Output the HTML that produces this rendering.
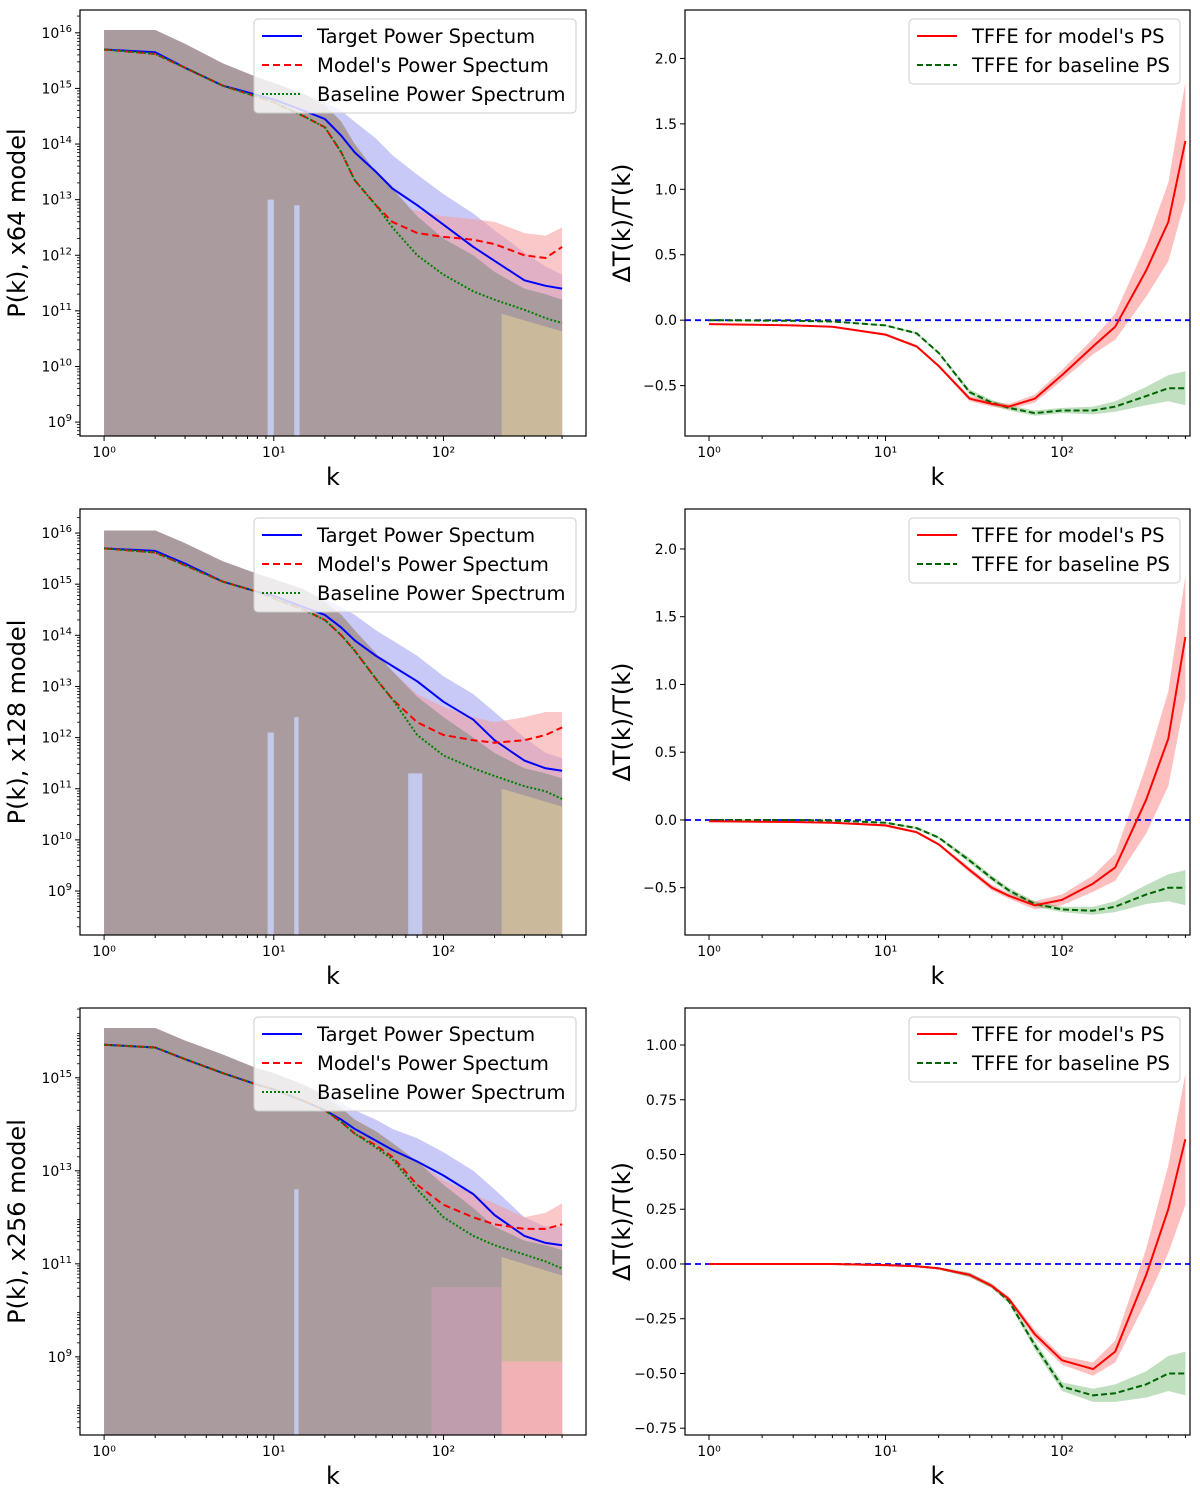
<!DOCTYPE html>
<html><head><meta charset="utf-8"><style>
body{margin:0;background:#fff;}
svg text{font-family:"DejaVu Sans","Liberation Sans",sans-serif;}
</style></head><body>
<svg id="fig" width="1200" height="1499" xmlns="http://www.w3.org/2000/svg"></svg>
<script>
// ---------- data ----------
const kL = [1,2,3,5,8,10,15,20,25,30,40,50,70,100,150,200,300,400,500];
const target1 = [15.7,15.65,15.37,15.05,14.88,14.8,14.6,14.45,14.15,13.85,13.5,13.2,12.9,12.55,12.15,11.9,11.55,11.45,11.4];
const model1  = [15.7,15.62,15.37,15.05,14.85,14.75,14.5,14.3,13.85,13.35,12.9,12.6,12.4,12.33,12.28,12.2,12.0,11.95,12.15];
const base1   = [15.7,15.62,15.37,15.05,14.85,14.75,14.5,14.3,13.85,13.35,12.9,12.5,12.0,11.65,11.35,11.2,11.02,10.87,10.78];
const gray1   = [16.05,16.05,15.8,15.45,15.2,15.1,14.9,14.7,14.4,14.0,13.5,13.2,12.7,12.3,12.0,11.7,11.4,11.3,11.2];
const blueUp1 = [16.05,16.05,15.8,15.45,15.2,15.1,14.9,14.75,14.6,14.4,14.1,13.8,13.45,13.1,12.75,12.45,12.05,11.8,11.65];
const redUp1  = [16.05,16.05,15.8,15.45,15.2,15.1,14.9,14.7,14.4,14.0,13.4,12.9,12.8,12.7,12.65,12.6,12.4,12.35,12.5];

const target2 = [15.7,15.65,15.4,15.05,14.85,14.77,14.55,14.4,14.15,13.9,13.6,13.4,13.1,12.7,12.35,11.95,11.55,11.4,11.35];
const model2  = [15.7,15.62,15.37,15.05,14.85,14.72,14.5,14.3,14.0,13.7,13.15,12.75,12.3,12.05,11.95,11.9,11.95,12.05,12.2];
const base2   = [15.7,15.62,15.37,15.05,14.85,14.72,14.5,14.3,14.0,13.7,13.15,12.75,12.05,11.65,11.4,11.25,11.05,10.95,10.8];
const gray2   = [16.05,16.05,15.8,15.45,15.2,15.1,14.9,14.65,14.4,14.1,13.65,13.3,12.8,12.4,12.0,11.7,11.4,11.3,11.2];
const blueUp2 = [16.05,16.05,15.8,15.45,15.2,15.1,14.9,14.7,14.55,14.4,14.1,13.9,13.6,13.2,12.85,12.5,12.0,11.7,11.6];
const redUp2  = [16.05,16.05,15.8,15.45,15.2,15.1,14.9,14.65,14.4,14.1,13.65,13.3,12.85,12.6,12.4,12.3,12.4,12.5,12.5];

const target3 = [15.71,15.65,15.4,15.1,14.85,14.75,14.5,14.3,14.1,13.9,13.65,13.45,13.2,12.9,12.5,12.05,11.6,11.45,11.4];
const model3  = [15.71,15.65,15.4,15.1,14.85,14.75,14.5,14.3,14.05,13.8,13.55,13.3,12.7,12.27,12.0,11.85,11.75,11.75,11.85];
const base3   = [15.71,15.65,15.4,15.1,14.85,14.75,14.5,14.3,14.05,13.8,13.5,13.25,12.6,12.0,11.6,11.4,11.2,11.05,10.9];
const gray3   = [16.07,16.07,15.8,15.5,15.2,15.1,14.85,14.6,14.35,14.1,13.85,13.6,13.2,12.7,12.2,11.8,11.5,11.4,11.3];
const blueUp3 = [16.07,16.07,15.8,15.5,15.2,15.1,14.85,14.65,14.45,14.3,14.1,13.9,13.7,13.4,13.0,12.6,12.0,11.8,11.8];
const redUp3  = [16.07,16.07,15.8,15.5,15.2,15.1,14.85,14.6,14.35,14.1,13.85,13.6,13.2,12.8,12.5,12.3,12.0,12.1,12.3];

const kR = [1,3,5,10,15,20,30,40,50,70,100,150,200,300,400,500];
const tfModel1 = [-0.03,-0.04,-0.05,-0.11,-0.2,-0.35,-0.6,-0.64,-0.66,-0.6,-0.42,-0.2,-0.05,0.38,0.75,1.37];
const tfBase1  = [0,-0.005,-0.01,-0.04,-0.1,-0.25,-0.55,-0.63,-0.67,-0.71,-0.69,-0.69,-0.66,-0.58,-0.52,-0.52];
const tfModelErr1 = [0.005,0.005,0.005,0.01,0.01,0.01,0.02,0.02,0.02,0.03,0.04,0.06,0.1,0.2,0.3,0.45];
const tfBaseErr1  = [0.005,0.005,0.005,0.005,0.01,0.01,0.02,0.02,0.02,0.02,0.02,0.03,0.04,0.07,0.1,0.13];
const tfModel2 = [-0.01,-0.015,-0.02,-0.04,-0.09,-0.18,-0.37,-0.5,-0.56,-0.63,-0.59,-0.47,-0.35,0.15,0.6,1.35];
const tfBase2  = [0,0,-0.005,-0.02,-0.06,-0.13,-0.3,-0.43,-0.52,-0.62,-0.66,-0.67,-0.64,-0.55,-0.5,-0.5];
const tfModelErr2 = [0.005,0.005,0.005,0.01,0.01,0.01,0.02,0.02,0.02,0.03,0.04,0.06,0.1,0.25,0.35,0.45];
const tfBaseErr2  = [0.005,0.005,0.005,0.005,0.01,0.01,0.02,0.02,0.02,0.02,0.02,0.03,0.04,0.07,0.1,0.13];
const tfModel3 = [0,0,0,-0.005,-0.01,-0.02,-0.05,-0.1,-0.16,-0.32,-0.44,-0.48,-0.4,-0.05,0.25,0.57];
const tfBase3  = [0,0,0,-0.005,-0.01,-0.02,-0.05,-0.1,-0.17,-0.37,-0.56,-0.6,-0.59,-0.55,-0.5,-0.5];
const tfModelErr3 = [0.002,0.002,0.002,0.003,0.005,0.005,0.01,0.01,0.01,0.02,0.02,0.03,0.05,0.12,0.2,0.3];
const tfBaseErr3  = [0.002,0.002,0.002,0.003,0.005,0.005,0.01,0.01,0.01,0.02,0.02,0.03,0.04,0.06,0.08,0.1];

const leftTicks1 = [9,10,11,12,13,14,15,16];
const leftTicks3 = [9,11,13,15];
const rightTicks12 = [-0.5,0.0,0.5,1.0,1.5,2.0];
const rightTicks3 = [-0.75,-0.5,-0.25,0.0,0.25,0.5,0.75,1.0];
const rightTickLabels3 = ["\u22120.75","\u22120.50","\u22120.25","0.00","0.25","0.50","0.75","1.00"];
const xTickExp = [0,1,2];

// ---------- helpers ----------
const NS="http://www.w3.org/2000/svg";
const svg=document.getElementById('fig');
function mk(tag,attrs,parent){const e=document.createElementNS(NS,tag);for(const a in attrs)e.setAttribute(a,attrs[a]);(parent||svg).appendChild(e);return e;}
const sup={0:"\u2070",1:"\u00b9",2:"\u00b2",9:"\u2079"};

function panel(o){
  const g=mk('g',{});
  
  
  const xs=k=>o.x0+(Math.log10(k)-o.lmin)/(o.lmax-o.lmin)*(o.x1-o.x0);
  const ys=v=>o.y1-(v-o.vmin)/(o.vmax-o.vmin)*(o.y1-o.y0);
  const clip='c'+o.name;
  const cp=mk('clipPath',{id:clip},g);mk('rect',{x:o.x0,y:o.y0,width:o.x1-o.x0,height:o.y1-o.y0},cp);
  const pg=mk('g',{'clip-path':'url(#'+clip+')'},g);
  return {g,pg,xs,ys};
}
function line(pg,ks,vals,xs,ys,stroke,dash,name,w){
  const p=mk('path',{d:ks.map((k,i)=>(i?'L':'M')+xs(k).toFixed(1)+','+ys(vals[i]).toFixed(1)).join(''),fill:'none',stroke:stroke,'stroke-width':w||2,'stroke-dasharray':dash||'none','stroke-linejoin':'round'},pg);
  
  
}
function band(pg,ks,up,lo,xs,ys,fill,op,name){
  let d=ks.map((k,i)=>(i?'L':'M')+xs(k).toFixed(1)+','+ys(up[i]).toFixed(1)).join('');
  for(let i=ks.length-1;i>=0;i--)d+='L'+xs(ks[i]).toFixed(1)+','+ys(lo[i]).toFixed(1);
  const p=mk('path',{d:d+'Z',fill:fill,'fill-opacity':op,stroke:'none'},pg);
  
  
}
function frame(P,o,yt,ylab,ytickLabels,logY){
  mk('rect',{x:o.x0,y:o.y0,width:o.x1-o.x0,height:o.y1-o.y0,fill:'none',stroke:'#000','stroke-width':1.2},P.g);
  xTickExp.forEach(e=>{const x=P.xs(Math.pow(10,e));
    mk('line',{x1:x,x2:x,y1:o.y1,y2:o.y1+5,stroke:'#000'},P.g);
    const t=mk('text',{x:x,y:o.y1+21,'font-size':14,'text-anchor':'middle'},P.g);t.textContent='10'+sup[e];
    
    if(e<2){for(let m=2;m<10;m++){const xm=P.xs(m*Math.pow(10,e));mk('line',{x1:xm,x2:xm,y1:o.y1,y2:o.y1+3,stroke:'#000'},P.g);}}
    else{for(let m=2;m<=5;m++){const xm=P.xs(m*100);mk('line',{x1:xm,x2:xm,y1:o.y1,y2:o.y1+3,stroke:'#000'},P.g);}}
  });
  const kl=mk('text',{x:(o.x0+o.x1)/2,y:o.y1+49,'font-size':24,'text-anchor':'middle'},P.g);kl.textContent='k';
  
  yt.forEach((v,i)=>{const y=P.ys(v);
    mk('line',{x1:o.x0-5,x2:o.x0,y1:y,y2:y,stroke:'#000'},P.g);
    let t;
    if(logY){t=mk('text',{x:o.x0-8,y:y+5,'font-size':14,'text-anchor':'end'},P.g);
      t.innerHTML='10<tspan dy="-6" font-size="10">'+v+'</tspan>';}
    else{t=mk('text',{x:o.x0-8,y:y+5,'font-size':14,'text-anchor':'end'},P.g);t.textContent=ytickLabels[i];}
    
  });
  if(logY){for(let d=Math.floor(o.vmin);d<Math.ceil(o.vmax);d++)for(let m=2;m<10;m++){const v=d+Math.log10(m);if(v>o.vmin&&v<o.vmax){const y=P.ys(v);mk('line',{x1:o.x0-3,x2:o.x0,y1:y,y2:y,stroke:'#000','stroke-width':0.8},P.g);}}}
  const cx=o.x0-(logY?55:55),cy=(o.y0+o.y1)/2;
  const yl=mk('text',{x:cx,y:cy,'font-size':24,'text-anchor':'middle',transform:'rotate(-90 '+cx+' '+cy+')'},P.g);yl.textContent=ylab;
  
}
function legend(g,x,y,w,entries){
  const h=entries.length*29+7;
  const r=mk('rect',{x:x,y:y,width:w,height:h,rx:4,fill:'#fff','fill-opacity':0.8,stroke:'#ccc'},g);
  
  entries.forEach((e,i)=>{const yy=y+17+i*29;
    mk('line',{x1:x+8,x2:x+48,y1:yy,y2:yy,stroke:e[1],'stroke-width':2,'stroke-dasharray':e[2]},g);
    const t=mk('text',{x:x+63,y:yy+7,'font-size':19.5},g);t.textContent=e[0];
    
  });
}

// ---------- left panels ----------
const leftRows=[
 {y0:10,y1:436,vmin:8.75,vmax:16.41,t:target1,m:model1,b:base1,gr:gray1,bu:blueUp1,ru:redUp1,lab:'P(k), x64 model',ticks:leftTicks1,spikes:[[9.2,10,13],[13.2,14.2,12.9]]},
 {y0:509,y1:935,vmin:8.14,vmax:16.47,t:target2,m:model2,b:base2,gr:gray2,bu:blueUp2,ru:redUp2,lab:'P(k), x128 model',ticks:leftTicks1,spikes:[[9.2,10,12.1],[13.2,14,12.4],[62,75,11.3]]},
 {y0:1008,y1:1435,vmin:7.32,vmax:16.5,t:target3,m:model3,b:base3,gr:gray3,bu:blueUp3,ru:redUp3,lab:'P(k), x256 model',ticks:leftTicks3,spikes:[[13.2,14,12.6]]}
];
leftRows.forEach((r,ri)=>{
  const o={x0:80,x1:586,y0:r.y0,y1:r.y1,lmin:-0.142,lmax:2.84,vmin:r.vmin,vmax:r.vmax,name:'power-spectrum-panel-'+(ri+1)};
  const P=panel(o);
  const bot=kL.map(()=>r.vmin-1);
  band(P.pg,kL,r.bu,bot,P.xs,P.ys,'#c9c9f7',1,'target-band');
  band(P.pg,kL,r.ru,bot,P.xs,P.ys,'#f59a9a',0.55,'model-band');
  band(P.pg,kL,r.gr,bot,P.xs,P.ys,'#a99b9e',1,'baseline-band');
  if(ri===2){band(P.pg,[85,500],[10.5,10.5],[r.vmin-1,r.vmin-1],P.xs,P.ys,'#e8a0c8',0.35,'pink-region');}
  const kT=[220,500];
  band(P.pg,kT,[r.b[15]-0.25,r.b[18]-0.15],[ri===2?8.9:r.vmin-1,ri===2?8.9:r.vmin-1],P.xs,P.ys,'#cbb99c',1,'tan-region');
  if(ri===2){band(P.pg,[220,500],[8.9,8.9],[r.vmin-1,r.vmin-1],P.xs,P.ys,'#f5b5b5',0.9,'pink-low-region');}
  r.spikes.forEach(s=>{band(P.pg,[s[0],s[1]],[s[2],s[2]],[r.vmin-1,r.vmin-1],P.xs,P.ys,'#c4c8ea',1,'gap-spike');});
  line(P.pg,kL,r.t,P.xs,P.ys,'#0000ff','none','target-line',2);
  line(P.pg,kL,r.m,P.xs,P.ys,'#ff0000','7 4','model-line',2);
  line(P.pg,kL,r.b,P.xs,P.ys,'#008000','2 2','baseline-line',2);
  frame(P,o,r.ticks,r.lab,null,true);
  legend(P.g,254,r.y0+9,322,[['Target Power Spectum','#0000ff','none'],["Model's Power Spectum",'#ff0000','7 4'],['Baseline Power Spectrum','#008000','2 2']]);
});

// ---------- right panels ----------
const rightRows=[
 {y0:10,y1:436,vmin:-0.885,vmax:2.37,m:tfModel1,b:tfBase1,me:tfModelErr1,be:tfBaseErr1,ticks:rightTicks12,labs:["\u22120.5","0.0","0.5","1.0","1.5","2.0"]},
 {y0:509,y1:935,vmin:-0.849,vmax:2.295,m:tfModel2,b:tfBase2,me:tfModelErr2,be:tfBaseErr2,ticks:rightTicks12,labs:["\u22120.5","0.0","0.5","1.0","1.5","2.0"]},
 {y0:1008,y1:1435,vmin:-0.781,vmax:1.169,m:tfModel3,b:tfBase3,me:tfModelErr3,be:tfBaseErr3,ticks:rightTicks3,labs:rightTickLabels3}
];
rightRows.forEach((r,ri)=>{
  const o={x0:685,x1:1190,y0:r.y0,y1:r.y1,lmin:-0.136,lmax:2.725,vmin:r.vmin,vmax:r.vmax,name:'tffe-panel-'+(ri+1)};
  const P=panel(o);
  band(P.pg,kR,r.m.map((v,i)=>v+r.me[i]),r.m.map((v,i)=>v-r.me[i]),P.xs,P.ys,'#ff0000',0.25,'model-error-band');
  band(P.pg,kR,r.b.map((v,i)=>v+r.be[i]),r.b.map((v,i)=>v-r.be[i]),P.xs,P.ys,'#008000',0.25,'baseline-error-band');
  const zl=mk('line',{x1:o.x0,x2:o.x1,y1:P.ys(0),y2:P.ys(0),stroke:'#0000ff','stroke-width':1.8,'stroke-dasharray':'6 4'},P.pg);
  
  line(P.pg,kR,r.b,P.xs,P.ys,'#006400','6 3','tffe-baseline-line',2);
  line(P.pg,kR,r.m,P.xs,P.ys,'#ff0000','none','tffe-model-line',2);
  frame(P,o,r.ticks,'\u0394T(k)/T(k)',r.labs,false);
  legend(P.g,909,r.y0+9,271,[["TFFE for model's PS",'#ff0000','none'],['TFFE for baseline PS','#006400','6 3']]);
});
</script>
</body></html>
